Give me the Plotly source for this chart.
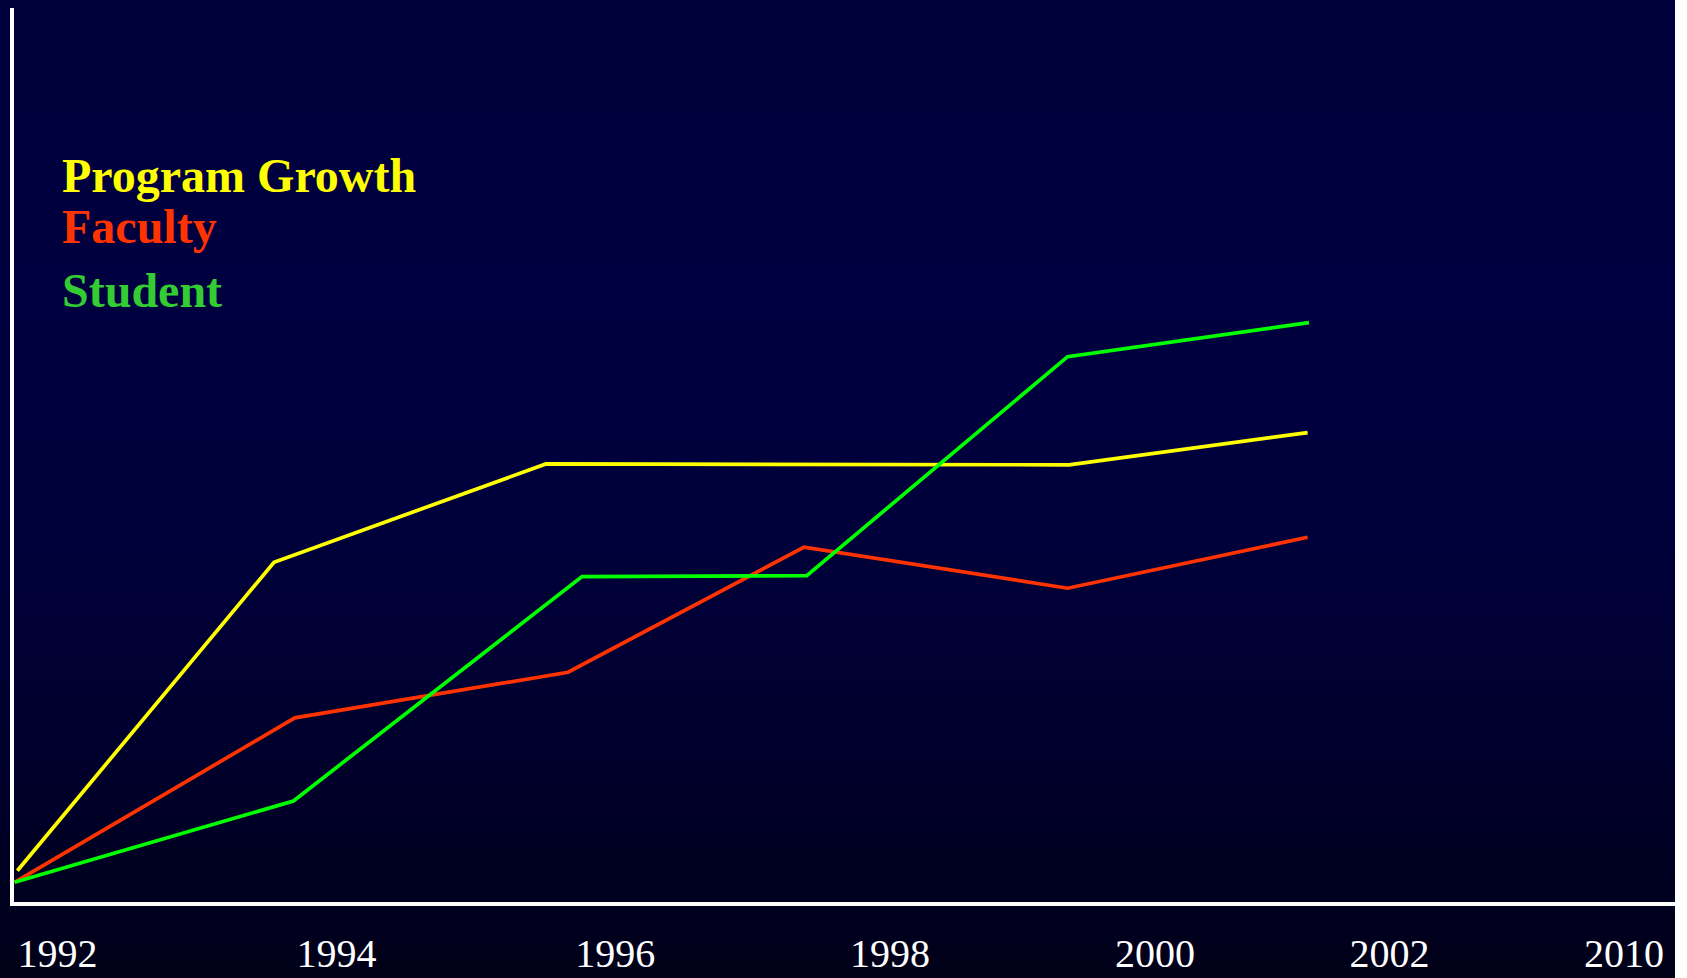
import numpy as np
import plotly.graph_objects as go

# Year labels along the bottom axis and where each one sits on the time scale
TICK_TEXT = ["1992", "1994", "1996", "1998", "2000", "2002", "2010"]
TICK_POS = [1992.0, 1994.01, 1996.02, 1998.0, 1999.91, 2001.60, 2003.29]

# Program growth index
GROWTH_X = [1991.71, 1993.56, 1995.52, 1999.29, 2001.01]
GROWTH_Y = [3.5, 38.0, 49.0, 48.9, 52.5]

# Faculty index
FACULTY_X = [1991.69, 1993.71, 1995.68, 1997.38, 1999.28, 2001.01]
FACULTY_Y = [2.2, 20.6, 25.7, 39.7, 35.1, 40.8]

# Student index
STUDENT_X = [1991.69, 1993.70, 1995.78, 1997.40, 1999.28, 2001.02]
STUDENT_Y = [2.2, 11.3, 36.4, 36.5, 61.0, 64.8]

SERIES = [
    ("Program Growth", GROWTH_X, GROWTH_Y, "#FFFF00", "#FFFF00"),
    ("Faculty", FACULTY_X, FACULTY_Y, "#FF3300", "#FF3300"),
    ("Student", STUDENT_X, STUDENT_Y, "#00FF00", "#33CC33"),
]

W, H = 1687, 978
ML, MR, MT, MB = 14, 12, 8, 76
PLOT_H = H - MT - MB
PLOT_W = W - ML - MR


def paper_y(py):
    return (H - MB - py) / PLOT_H


def paper_x(px):
    return (px - ML) / PLOT_W


fig = go.Figure()
for name, xs, ys, line_color, _ in SERIES:
    fig.add_trace(go.Scatter(
        x=xs, y=ys, mode="lines", name=name,
        line=dict(color=line_color, width=3.7),
        hoverinfo="skip",
    ))

# Vertical navy gradient behind everything
stops_py = [0, 300, 520, 760, 978]
stops_b = [60, 64, 60, 44, 24]
shapes = []
n_bands = 60
edges = np.linspace(0, H, n_bands + 1)
for i in range(n_bands):
    mid = (edges[i] + edges[i + 1]) / 2
    b = int(round(np.interp(mid, stops_py, stops_b)))
    shapes.append(dict(
        type="rect", xref="paper", yref="paper", layer="below",
        x0=paper_x(-2), x1=paper_x(W + 2),
        y0=paper_y(edges[i + 1] + 0.5), y1=paper_y(edges[i] - 0.5),
        fillcolor=f"rgb(0,0,{b})", line=dict(width=0),
    ))
# White strip at the right edge
shapes.append(dict(
    type="rect", xref="paper", yref="paper", layer="above",
    x0=paper_x(1675), x1=paper_x(W + 5), y0=paper_y(H + 5), y1=paper_y(-5),
    fillcolor="white", line=dict(width=0),
))

# Coloured series titles
label_rows = [175, 226, 290]
annotations = []
for (name, _, _, _, text_color), py in zip(SERIES, label_rows):
    annotations.append(dict(
        text=f"<b>{name}</b>", xref="paper", yref="paper",
        x=paper_x(60), y=paper_y(py), xanchor="left", yanchor="middle",
        showarrow=False,
        font=dict(family="Liberation Serif", size=48, color=text_color),
    ))

fig.update_layout(
    width=W, height=H,
    margin=dict(l=ML, r=MR, t=MT, b=MB, pad=0, autoexpand=False),
    paper_bgcolor="rgb(0,0,30)",
    plot_bgcolor="rgba(0,0,0,0)",
    showlegend=False,
    shapes=shapes,
    annotations=annotations,
    xaxis=dict(
        range=[1991.686, 2003.658], automargin=False,
        tickmode="array", tickvals=TICK_POS, ticktext=TICK_TEXT,
        ticks="", showgrid=False, zeroline=False,
        showline=True, linecolor="white", linewidth=3.5,
        tickfont=dict(family="Liberation Serif", size=40, color="white"),
        ticklabelstandoff=13,
    ),
    yaxis=dict(
        range=[0, 100], automargin=False,
        showticklabels=False, ticks="", showgrid=False, zeroline=False,
        showline=True, linecolor="white", linewidth=3.5,
    ),
)

fig.write_html("out.html")
